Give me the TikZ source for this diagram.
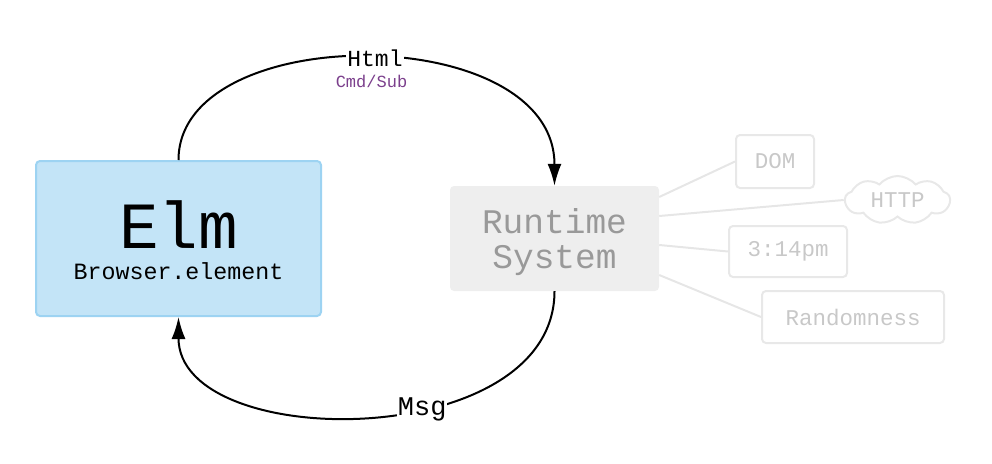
\documentclass[tikz,border=0pt]{standalone}
\usepackage{fontspec}
\setmainfont{Liberation Mono}
\usetikzlibrary{arrows.meta,shapes.symbols,calc}
\definecolor{elmfill}{HTML}{C3E4F7}
\definecolor{elmdraw}{HTML}{9DD3F2}
\definecolor{rtfill}{HTML}{EEEEEE}
\definecolor{rttext}{HTML}{999999}
\definecolor{ghostdraw}{HTML}{E8E8E8}
\definecolor{ghosttext}{HTML}{C8C8C8}
\definecolor{ghostline}{HTML}{E6E6E6}
\definecolor{purp}{HTML}{7B3F8C}
\newcommand{\fs}[1]{\fontsize{#1}{#1}\selectfont}
\tikzset{
  elmbox/.style={draw=elmdraw,line width=2pt,fill=elmfill,rounded corners=4pt,minimum width=285pt,minimum height=155pt,inner sep=0pt},
  rtbox/.style={fill=rtfill,rounded corners=4pt,minimum width=209pt,minimum height=105pt,inner sep=0pt},
  ghostbox/.style={draw=ghostdraw,line width=2pt,rounded corners=4pt,text=ghosttext,inner sep=0pt,font=\fs{22.5}},
  ghostline/.style={draw=ghostline,line width=2pt},
  flow/.style={draw=black,line width=2pt,-{Latex[length=22pt,width=14pt]}},
  lbl/.style={fill=white,inner sep=1pt,font=\fs{23}}
}
\begin{document}
\begin{tikzpicture}[x=1pt,y=-1pt]
\useasboundingbox (0,0) rectangle (992,463);
% Elm box
\node[elmbox] (elm) at (178.5,238.5) {};
\node[anchor=base,font=\fs{66},inner sep=0pt] (elmt) at (178.5,248) {Elm};
\node[anchor=base,font=\fs{23.3},inner sep=0pt] (elms) at (178.5,279) {Browser.element};
% Runtime box
\node[rtbox] (rt) at (554.5,238.5) {};
\node[anchor=base,font=\fs{34.5},text=rttext,inner sep=0pt] (rt1) at (554.5,233) {Runtime};
\node[anchor=base,font=\fs{34.5},text=rttext,inner sep=0pt] (rt2) at (554.5,268) {System};
% ghost nodes
\node[ghostbox,minimum width=78pt,minimum height=53pt] (dom) at (775,161.5) {DOM};
\node[cloud,draw=ghostdraw,line width=2pt,text=ghosttext,font=\fs{22.5},cloud puffs=9,cloud puff arc=100,aspect=2.3,inner sep=0pt,minimum width=105pt,minimum height=48pt] (http) at (897.5,200) {HTTP};
\node[ghostbox,minimum width=118pt,minimum height=51pt] (time) at (788,251.5) {3:14pm};
\node[ghostbox,minimum width=182pt,minimum height=52pt] (rand) at (853,317) {Randomness};
% ghost lines
\draw[ghostline] ($(rt.east)+(0,-41.5)$) -- (dom.west);
\draw[ghostline] ($(rt.east)+(0,-22.5)$) -- (http.west);
\draw[ghostline] ($(rt.east)+(0,6.5)$) -- (time.west);
\draw[ghostline] ($(rt.east)+(0,36.5)$) -- (rand.west);
% flows
\draw[flow] (elm.north) .. controls (178.5,20) and (554.5,20) .. (rt.north)
  node[pos=0.515,lbl] (html) {Html};
\node[font=\fs{17},text=purp,inner sep=0pt,anchor=base] (cmd) at (371.5,87) {Cmd/Sub};
\draw[flow] (rt.south) .. controls (554.5,453) and (178.5,453) .. (elm.south)
  node[pos=0.4,lbl,font=\fs{27}] (msg) {Msg};
\end{tikzpicture}
\end{document}
